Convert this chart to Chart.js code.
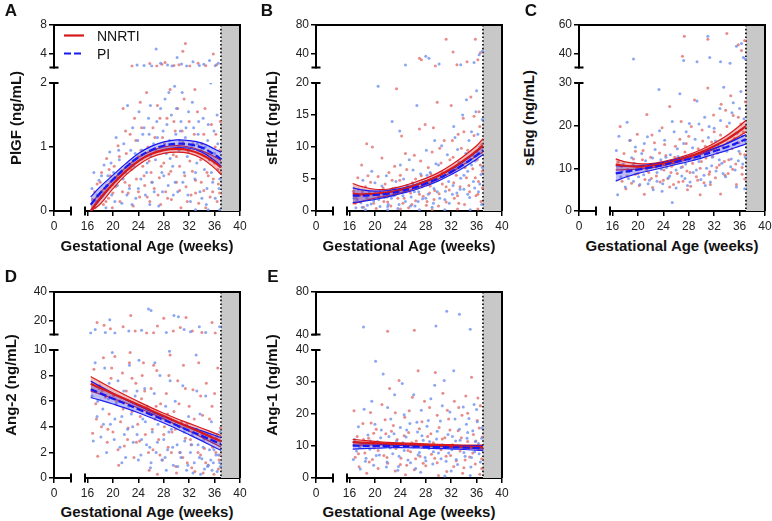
<!DOCTYPE html>
<html>
<head>
<meta charset="utf-8">
<script src="https://cdn.jsdelivr.net/npm/chart.js@4.4.1/dist/chart.umd.min.js"></script>
<style>
  body { margin: 0; background: #fff; }
  #fig { position: relative; width: 772px; height: 521px; font-family: "Liberation Sans", Arial, sans-serif; color: #111; }
  canvas { position: absolute; }
  .letter { position: absolute; font-weight: bold; font-size: 17px; transform: translate(-50%, -50%); }
  .xt { position: absolute; font-weight: bold; font-size: 15px; white-space: nowrap; transform: translate(-50%, -50%); }
  .yt { position: absolute; font-weight: bold; font-size: 15px; white-space: nowrap; transform: translate(-50%, -50%) rotate(-90deg); }
  .leg { position: absolute; font-size: 14px; transform: translateY(-50%); }
  svg { position: absolute; }
</style>
</head>
<body>
<div id="fig">
  <div class="letter" style="left:11px;top:11px">A</div>
  <div class="letter" style="left:267px;top:11px">B</div>
  <div class="letter" style="left:531px;top:11px">C</div>
  <div class="letter" style="left:11px;top:277px">D</div>
  <div class="letter" style="left:273px;top:277px">E</div>

  <div class="xt" style="left:147px;top:245px">Gestational Age (weeks)</div>
  <div class="xt" style="left:409px;top:245px">Gestational Age (weeks)</div>
  <div class="xt" style="left:672px;top:245px">Gestational Age (weeks)</div>
  <div class="xt" style="left:147px;top:511px">Gestational Age (weeks)</div>
  <div class="xt" style="left:409px;top:511px">Gestational Age (weeks)</div>

  <div class="yt" style="left:15px;top:118px">PlGF (ng/mL)</div>
  <div class="yt" style="left:271px;top:118px">sFlt1 (ng/mL)</div>
  <div class="yt" style="left:528px;top:118px">sEng (ng/mL)</div>
  <div class="yt" style="left:10px;top:385px">Ang-2 (ng/mL)</div>
  <div class="yt" style="left:271px;top:385px">Ang-1 (ng/mL)</div>
</div>
<script>
const FONT = '"Liberation Sans", Arial, sans-serif';
const RED = '#d7191c';
const BLUE = '#1818f2';

// x axis
const xLeftTicks = [0];
const xTicks = [16, 20, 24, 28, 32, 36, 40];
const shadeFrom = 37;

// fitted curves are read at these weeks
const fitWeeks = [16.5, 18, 20, 22, 24, 26, 28, 30, 32, 34, 36, 37];

// A - PlGF
const plgfLowTicks = [0, 1, 2];
const plgfUpTicks = [4, 8];
const plgfUpRange = [2, 8];
const plgfRedMean = [0, 0.2, 0.42, 0.62, 0.78, 0.89, 0.95, 0.97, 0.95, 0.88, 0.76, 0.68];
const plgfRedLo = [0, 0.11, 0.35, 0.56, 0.72, 0.84, 0.9, 0.92, 0.9, 0.82, 0.67, 0.57];
const plgfRedHi = [0.1, 0.29, 0.49, 0.68, 0.84, 0.94, 1.0, 1.02, 1.0, 0.94, 0.85, 0.79];
const plgfBlueMean = [0.1, 0.28, 0.49, 0.68, 0.84, 0.95, 1.02, 1.05, 1.04, 0.99, 0.88, 0.81];
const plgfBlueLo = [0, 0.18, 0.42, 0.62, 0.78, 0.89, 0.96, 0.99, 0.98, 0.92, 0.79, 0.7];
const plgfBlueHi = [0.22, 0.38, 0.56, 0.74, 0.9, 1.01, 1.08, 1.11, 1.1, 1.06, 0.97, 0.92];
const plgfNnrti = [16.8,0.18, 17.2,0.05, 17.5,0.42, 17.9,0.25, 18.2,0.6, 18.5,0.1, 18.7,0.35, 19.0,0.82,
  19.3,0.2, 19.6,0.55, 19.9,0.05, 20.2,0.7, 20.4,0.38, 20.8,1.02, 21.1,0.15, 21.3,0.6, 21.6,1.6, 21.9,0.45,
  22.1,0.9, 22.4,0.28, 22.7,1.2, 22.9,0.65, 23.2,0.08, 23.4,1.45, 23.7,0.5, 24.0,0.85, 24.2,0.22, 24.5,1.3,
  24.7,0.7, 25.0,0.4, 25.3,1.85, 25.5,1.0, 25.8,0.15, 26.0,0.6, 26.3,1.3, 26.5,0.35, 26.8,0.95, 27.0,1.65,
  27.3,0.52, 27.5,0.1, 27.8,1.15, 28.0,0.75, 28.3,0.3, 28.5,1.45, 28.8,0.58, 29.0,1.9, 29.2,0.18, 29.5,0.88,
  29.8,1.25, 30.0,0.45, 30.2,1.6, 30.5,0.7, 30.7,0.05, 31.0,1.08, 31.2,1.75, 31.5,0.38, 31.8,0.92, 32.0,1.4,
  32.3,0.25, 32.5,0.62, 32.8,1.2, 33.0,0.48, 33.3,1.55, 33.5,0.12, 33.8,0.8, 34.0,1.05, 34.3,0.32, 34.5,1.6,
  34.8,0.6, 35.0,0.9, 35.3,0.22, 35.5,1.35, 35.8,0.5, 36.0,0.75, 36.2,1.2, 36.4,0.15, 36.6,0.42, 36.8,0.95,
  36.9,0.6, 23.0,2.2, 25.8,2.55, 26.9,2.2, 28.2,2.7, 29.6,2.3, 30.4,2.4, 31.4,5.4, 31.0,4.3, 32.1,2.2,
  33.4,2.6, 34.6,2.25, 35.8,3.9, 36.3,2.4, 27.7,2.45,
  17.1,0.3, 18.0,0.45, 18.9,0.15, 19.4,0.65, 20.0,0.28, 20.6,0.52, 21.0,0.85, 21.5,0.3, 22.0,1.25, 22.6,0.4,
  23.1,0.72, 23.6,1.1, 24.0,0.3, 24.4,0.95, 24.9,0.55, 25.4,0.22, 25.7,0.78, 26.1,0.45, 26.6,1.15, 27.1,0.25,
  27.6,0.7, 28.1,1.05, 28.6,0.2, 29.1,0.62, 29.6,1.4, 30.0,0.85, 30.5,0.32, 30.9,1.25, 31.3,0.55, 31.7,0.15,
  32.1,0.78, 32.6,1.05, 33.0,0.28, 33.4,0.95, 33.9,0.45, 34.3,1.2, 34.6,0.05, 35.0,0.55, 35.4,0.82, 35.7,0.3,
  36.1,1.0, 36.5,0.65, 36.8,0.28, 36.9,1.4, 32.9,1.9, 27.4,1.45, 24.3,1.7, 30.3,1.02];
const plgfPi = [16.7,0.35, 17.0,0.6, 17.4,0.15, 17.8,0.48, 18.3,0.3, 18.6,0.72, 18.9,0.05, 19.2,0.55,
  19.5,0.92, 19.8,0.25, 20.1,0.6, 20.5,1.15, 20.7,0.4, 21.0,0.8, 21.4,0.12, 21.7,1.05, 22.0,0.6, 22.3,1.65,
  22.6,0.35, 22.8,0.95, 23.1,1.3, 23.3,0.7, 23.6,0.2, 23.9,1.1, 24.1,1.55, 24.4,0.5, 24.6,0.95, 24.9,1.3,
  25.1,0.25, 25.4,0.75, 25.7,1.2, 25.9,1.65, 26.2,0.45, 26.4,1.05, 26.7,0.8, 26.9,1.4, 27.2,0.08, 27.4,1.0,
  27.7,0.6, 27.9,1.25, 28.2,1.75, 28.4,0.9, 28.7,0.4, 28.9,1.1, 29.2,1.5, 29.4,0.7, 29.7,1.95, 29.9,1.2,
  30.2,0.3, 30.4,0.95, 30.7,1.4, 30.9,1.85, 31.2,0.6, 31.4,1.15, 31.7,0.85, 31.9,1.55, 32.2,0.15, 32.4,1.0,
  32.7,1.3, 32.9,0.5, 33.2,0.75, 33.4,1.2, 33.7,0.3, 33.9,0.95, 34.2,1.45, 34.4,0.65, 34.7,0.1, 34.9,1.1,
  35.2,0.8, 35.4,2.0, 35.7,0.45, 35.9,1.25, 36.1,0.2, 36.3,0.85, 36.5,1.05, 36.7,0.35, 36.9,0.7, 36.8,0.02,
  35.0,0.02, 33.0,0.02, 24.9,2.3, 26.1,2.2, 26.8,4.6, 27.5,2.6, 28.6,2.35, 29.3,2.2, 30.1,3.4, 30.8,2.5,
  31.6,2.2, 32.6,2.8, 33.6,2.3, 34.3,2.45, 35.2,3.0, 36.1,2.25, 36.6,2.6, 23.8,2.35,
  17.5,0.25, 18.2,0.55, 19.0,0.4, 19.7,0.75, 20.3,0.15, 20.9,0.95, 21.6,0.5, 22.2,0.25, 22.9,0.7, 23.5,0.9,
  24.0,0.35, 24.7,1.2, 25.3,0.6, 25.6,1.45, 26.0,0.85, 26.5,0.3, 27.0,1.15, 27.5,1.6, 28.0,0.55, 28.5,1.35,
  29.0,0.82, 29.5,0.25, 30.0,1.6, 30.5,1.1, 31.0,0.45, 31.5,1.3, 32.0,0.95, 32.5,1.7, 33.0,0.6, 33.5,1.4,
  34.0,0.2, 34.5,1.0, 35.0,1.35, 35.5,0.6, 36.0,0.9, 36.4,1.5, 36.8,0.5, 31.8,0.25, 29.8,0.45, 27.8,0.3,
  25.8,0.1, 23.0,0.1, 34.8,0.35, 33.3,1.05, 28.8,1.85, 30.6,1.25];

// B - sFlt1
const sflt1LowTicks = [0, 5, 10, 15, 20];
const sflt1UpTicks = [40, 80];
const sflt1UpRange = [20, 80];
const sflt1RedMean = [2.7, 2.6, 2.7, 2.9, 3.3, 3.9, 4.6, 5.5, 6.6, 7.9, 9.4, 10.2];
const sflt1RedLo = [1.1, 1.5, 2.0, 2.4, 2.8, 3.4, 4.1, 5.0, 6.0, 7.3, 8.6, 9.2];
const sflt1RedHi = [4.3, 3.8, 3.4, 3.4, 3.8, 4.4, 5.1, 6.0, 7.2, 8.6, 10.2, 11.3];
const sflt1BlueMean = [2.4, 2.4, 2.5, 2.7, 3.1, 3.6, 4.3, 5.1, 6.1, 7.3, 8.7, 9.5];
const sflt1BlueLo = [1.3, 1.5, 1.8, 2.2, 2.7, 3.2, 3.9, 4.7, 5.7, 6.8, 8.1, 8.8];
const sflt1BlueHi = [3.6, 3.3, 3.1, 3.2, 3.5, 4.0, 4.7, 5.5, 6.5, 7.8, 9.3, 10.2];
const sflt1Nnrti = [16.6,3.1, 16.9,1.2, 17.3,5.2, 17.6,2.4, 17.9,7.2, 18.2,0.6, 18.5,3.8, 18.7,10.5, 19.0,1.8,
  19.3,4.5, 19.6,10.0, 19.9,2.6, 20.2,0.4, 20.5,5.4, 20.8,3.0, 21.1,8.3, 21.4,1.5, 21.6,4.2, 21.9,2.2, 22.2,6.0,
  22.5,0.8, 22.8,3.5, 23.1,7.0, 23.4,19.1, 23.6,2.0, 23.9,4.8, 24.2,11.7, 24.4,1.2, 24.7,3.2, 25.0,6.5, 25.3,0.5,
  25.6,2.8, 25.9,4.4, 26.2,8.7, 26.4,1.6, 26.7,3.6, 27.0,12.8, 27.3,5.5, 27.6,2.3, 27.9,13.5, 28.1,0.9, 28.4,6.8,
  28.7,3.9, 29.0,9.2, 29.3,1.8, 29.6,5.0, 29.8,17.0, 30.1,2.7, 30.4,7.5, 30.6,4.2, 30.9,11.0, 31.2,1.4, 31.5,6.3,
  31.7,3.3, 32.0,16.5, 32.3,8.4, 32.5,2.0, 32.8,5.6, 33.1,12.0, 33.4,3.8, 33.6,7.2, 33.9,14.5, 34.1,1.0, 34.4,5.2,
  34.6,9.5, 34.9,3.0, 35.1,17.8, 35.4,6.6, 35.6,11.8, 35.9,2.4, 36.1,8.0, 36.3,4.6, 36.5,13.2, 36.7,1.5, 36.9,6.2,
  36.8,10.4, 36.2,0.3, 33.0,0.3, 29.0,0.2, 24.0,0.3, 27.0,33, 27.3,31, 31.2,60, 32.3,42, 35.8,60, 36.2,31,
  34.5,28, 32.9,24, 29.5,22, 36.6,41,
  17.1,2.0, 18.0,3.0, 18.9,5.5, 19.8,1.2, 20.6,2.3, 21.3,3.6, 22.0,1.4, 22.7,4.8, 23.3,2.6, 24.0,5.6, 24.6,2.0,
  25.2,3.9, 25.8,1.0, 26.4,5.0, 27.0,2.6, 27.6,4.0, 28.2,1.5, 28.8,5.8, 29.4,3.2, 30.0,0.8, 30.6,6.0, 31.2,3.8,
  31.8,8.0, 32.4,4.4, 33.0,2.4, 33.6,9.8, 34.2,6.8, 34.8,4.0, 35.4,8.8, 35.8,5.2, 36.2,2.6, 36.6,7.2, 36.9,3.6,
  32.2,11.0, 30.2,9.8, 27.2,7.8, 24.8,9.0, 35.6,14.8, 34.0,12.4, 29.2,13.0, 36.4,15.5, 33.2,1.2, 28.6,2.8, 23.8,3.0];
const sflt1Pi = [16.7,2.0, 17.0,0.5, 17.4,3.4, 17.8,1.3, 18.1,4.8, 18.4,2.5, 18.8,0.9, 19.1,3.0, 19.5,6.2,
  19.8,1.6, 20.1,2.8, 20.5,19.5, 20.8,0.7, 21.1,3.9, 21.5,2.1, 21.8,5.5, 22.1,1.0, 22.4,3.2, 22.7,14.0, 23.0,2.4,
  23.3,4.6, 23.6,0.4, 23.9,12.5, 24.2,2.9, 24.5,5.0, 24.8,1.5, 25.1,3.6, 25.4,8.0, 25.7,2.2, 26.0,4.1, 26.3,0.8,
  26.6,16.5, 26.9,3.0, 27.2,5.8, 27.5,1.9, 27.8,4.4, 28.1,9.5, 28.4,2.6, 28.7,6.0, 29.0,0.6, 29.3,3.5, 29.6,7.4,
  29.9,4.9, 30.2,2.0, 30.5,10.2, 30.8,5.4, 31.1,3.1, 31.4,8.8, 31.7,1.2, 32.0,6.5, 32.3,4.0, 32.6,11.5, 32.9,2.8,
  33.2,7.6, 33.5,5.1, 33.8,15.0, 34.0,3.4, 34.3,9.0, 34.6,6.2, 34.9,2.1, 35.2,12.4, 35.5,4.6, 35.8,7.8, 36.0,18.8,
  36.3,3.0, 36.5,10.0, 36.7,5.7, 36.9,14.3, 36.8,1.0, 35.0,0.2, 31.0,0.2, 27.0,0.2, 22.0,0.2, 18.5,0.2,
  24.8,23.5, 28.0,36, 28.5,33, 30.1,25, 33.5,24, 35.6,27, 36.4,38, 36.9,43,
  17.2,1.8, 18.0,0.6, 18.7,2.0, 19.4,1.1, 20.0,4.4, 20.6,1.8, 21.3,2.9, 22.0,0.7, 22.6,2.0, 23.2,3.6, 23.8,1.0,
  24.4,2.4, 25.0,4.0, 25.6,0.8, 26.2,3.0, 26.8,1.5, 27.4,3.8, 28.0,2.0, 28.6,4.8, 29.2,1.2, 29.8,3.0, 30.4,5.6,
  31.0,1.8, 31.6,4.6, 32.2,2.6, 32.8,6.8, 33.4,3.4, 34.0,5.6, 34.6,2.6, 35.2,7.2, 35.7,3.6, 36.1,9.2, 36.5,4.2,
  36.9,6.8, 36.2,12.0, 35.9,15.5, 34.8,11.0, 33.0,9.6, 31.8,6.2, 30.0,7.2, 28.2,5.6, 26.0,6.4, 24.0,7.2,
  32.4,13.2, 34.4,17.4, 29.4,11.0];

// C - sEng
const sengLowTicks = [0, 10, 20, 30];
const sengUpTicks = [40, 60];
const sengUpRange = [30, 60];
const sengRedMean = [10.9, 10.6, 10.4, 10.6, 11.1, 11.8, 12.7, 13.8, 15.2, 16.8, 18.8, 19.9];
const sengRedLo = [9.6, 9.7, 9.8, 10.1, 10.6, 11.3, 12.2, 13.3, 14.5, 15.9, 17.6, 18.5];
const sengRedHi = [12.2, 11.5, 11.1, 11.1, 11.6, 12.3, 13.2, 14.4, 15.9, 17.7, 20.0, 21.3];
const sengBlueMean = [8.8, 9.2, 9.7, 10.2, 10.8, 11.5, 12.2, 13.0, 14.0, 15.0, 16.2, 16.8];
const sengBlueLo = [7.0, 7.9, 8.8, 9.5, 10.2, 10.9, 11.6, 12.4, 13.3, 14.2, 15.2, 15.7];
const sengBlueHi = [10.6, 10.5, 10.6, 10.9, 11.4, 12.1, 12.8, 13.6, 14.7, 15.8, 17.2, 17.9];
const sengNnrti = [16.9,11.5, 17.2,19.8, 17.5,7.0, 17.8,13.5, 18.1,5.2, 18.4,9.8, 18.7,16.5, 19.0,6.5, 19.3,12.2,
  19.6,8.6, 19.9,18.0, 20.2,6.0, 20.5,10.4, 20.8,14.2, 21.1,7.4, 21.4,22.6, 21.7,9.0, 22.0,12.6, 22.3,5.5,
  22.6,16.0, 22.9,8.2, 23.2,11.0, 23.5,6.8, 23.8,19.5, 24.1,9.6, 24.4,13.0, 24.7,7.6, 25.0,24.5, 25.3,10.5,
  25.6,6.2, 25.9,15.2, 26.2,8.8, 26.5,12.0, 26.8,21.0, 27.1,7.0, 27.4,13.8, 27.7,9.4, 28.0,17.5, 28.3,5.8,
  28.6,11.2, 28.9,26.0, 29.2,8.0, 29.5,14.6, 29.8,10.0, 30.1,19.0, 30.4,6.6, 30.7,12.4, 31.0,28.8, 31.3,9.2,
  31.6,16.2, 31.9,22.5, 32.2,7.8, 32.5,13.6, 32.8,10.8, 33.1,25.0, 33.4,15.0, 33.7,8.4, 34.0,19.8, 34.3,12.0,
  34.6,27.0, 34.9,9.8, 35.2,17.0, 35.5,6.2, 35.8,22.0, 36.1,13.4, 36.4,10.2, 36.6,18.5, 36.8,7.5, 36.9,25.6,
  33.0,4.0, 29.8,3.8, 21.0,3.9, 27.3,52, 27.0,38, 31.0,50, 34.0,54, 35.8,46, 36.8,49, 36.3,42,
  17.4,10.5, 18.3,8.2, 19.2,10.8, 20.0,8.8, 20.7,12.0, 21.4,9.6, 22.1,7.6, 22.8,10.4, 23.4,13.6, 24.0,7.2,
  24.6,11.2, 25.2,9.0, 25.8,12.6, 26.4,6.8, 27.0,10.4, 27.6,15.8, 28.2,9.0, 28.8,12.2, 29.4,7.2, 30.0,11.6,
  30.6,15.2, 31.2,8.6, 31.8,12.8, 32.4,10.2, 33.0,17.8, 33.6,11.6, 34.2,8.8, 34.8,14.6, 35.4,11.0, 35.9,16.0,
  36.4,8.6, 36.8,13.2, 36.2,20.4, 35.0,22.4, 33.8,23.6, 32.0,18.6, 30.2,16.4, 28.4,19.8, 26.6,16.8, 24.2,15.6,
  22.2,17.8, 19.6,14.0, 31.4,6.2, 27.8,5.0, 25.0,5.6];
const sengPi = [16.6,14.2, 16.8,3.8, 17.0,17.5, 17.3,8.0, 17.7,11.0, 18.0,5.6, 18.3,20.8, 18.6,9.2, 19.0,12.5,
  19.3,7.0, 19.6,15.0, 19.9,10.0, 20.3,6.2, 20.6,13.5, 20.9,8.5, 21.2,11.8, 21.5,17.4, 21.8,7.2, 22.1,10.6,
  22.4,5.0, 22.7,14.4, 23.0,9.0, 23.3,28.5, 23.6,12.0, 23.9,6.4, 24.2,16.6, 24.5,10.2, 24.8,7.8, 25.1,13.2,
  25.4,2.0, 25.7,18.6, 26.0,9.6, 26.3,12.8, 26.6,27.5, 26.9,8.2, 27.2,15.8, 27.5,11.0, 27.8,6.0, 28.1,20.5,
  28.4,13.0, 28.7,9.0, 29.0,16.8, 29.3,25.8, 29.6,11.6, 29.9,7.4, 30.2,14.0, 30.5,22.0, 30.8,10.0, 31.1,17.2,
  31.4,6.8, 31.7,12.6, 32.0,19.4, 32.3,9.4, 32.6,15.4, 32.9,24.0, 33.2,11.2, 33.5,29.0, 33.8,8.0, 34.1,16.0,
  34.4,20.6, 34.7,12.2, 35.0,25.4, 35.3,9.6, 35.6,18.2, 35.9,14.0, 36.2,28.0, 36.5,11.0, 36.7,21.6, 36.9,16.4,
  36.8,5.2, 35.5,5.6, 19.3,36, 27.2,35, 29.3,34, 31.0,52, 31.3,37, 33.0,34, 35.5,45, 36.3,47, 36.6,37,
  36.9,36, 34.5,33,
  17.5,9.4, 18.5,7.6, 19.4,11.2, 20.1,8.0, 20.8,10.6, 21.6,6.4, 22.3,12.4, 23.0,7.0, 23.7,9.8, 24.4,12.6,
  25.0,8.2, 25.6,11.0, 26.2,14.6, 26.8,10.2, 27.4,7.6, 28.0,12.0, 28.6,14.8, 29.2,9.6, 29.8,12.4, 30.4,8.4,
  31.0,13.8, 31.6,10.6, 32.2,16.4, 32.8,12.0, 33.4,8.8, 34.0,14.0, 34.6,10.4, 35.2,15.6, 35.8,11.8, 36.4,17.6,
  36.9,12.6, 36.0,24.0, 34.8,23.0, 33.0,21.2, 31.2,19.8, 29.6,20.4, 27.6,18.6, 25.4,21.0, 23.4,18.8, 21.0,15.8,
  18.8,16.6, 30.6,6.0, 28.2,6.8, 26.0,5.4, 23.8,4.6];

// D - Ang-2
const ang2LowTicks = [0, 2, 4, 6, 8, 10];
const ang2UpTicks = [20, 40];
const ang2UpRange = [10, 40];
const ang2RedMean = [7.36, 7.03, 6.59, 6.16, 5.72, 5.28, 4.84, 4.4, 3.97, 3.53, 3.09, 2.87];
const ang2RedLo = [6.79, 6.55, 6.21, 5.86, 5.47, 5.06, 4.62, 4.15, 3.67, 3.17, 2.67, 2.42];
const ang2RedHi = [7.93, 7.51, 6.97, 6.46, 5.97, 5.5, 5.06, 4.65, 4.27, 3.89, 3.51, 3.32];
const ang2BlueMean = [6.93, 6.62, 6.2, 5.79, 5.37, 4.95, 4.54, 4.12, 3.7, 3.29, 2.87, 2.66];
const ang2BlueLo = [6.29, 6.08, 5.78, 5.46, 5.1, 4.71, 4.3, 3.85, 3.38, 2.9, 2.4, 2.16];
const ang2BlueHi = [7.57, 7.16, 6.62, 6.12, 5.64, 5.19, 4.78, 4.39, 4.02, 3.68, 3.34, 3.16];
const ang2Nnrti = [16.8,3.5, 17.0,8.5, 17.3,5.8, 17.6,1.7, 17.9,7.2, 18.2,4.0, 18.5,9.4, 18.8,6.3, 19.1,2.8,
  19.4,5.0, 19.7,7.8, 20.0,3.6, 20.3,9.5, 20.6,6.0, 20.9,1.0, 21.2,4.4, 21.5,8.2, 21.8,2.5, 22.1,6.8, 22.4,3.9,
  22.7,9.8, 23.0,5.2, 23.3,1.6, 23.6,7.4, 23.9,4.2, 24.2,2.9, 24.5,6.2, 24.8,9.0, 25.1,3.4, 25.4,5.6, 25.7,0.6,
  26.0,7.0, 26.3,2.2, 26.6,4.6, 26.9,8.4, 27.2,3.0, 27.5,5.8, 27.8,1.4, 28.1,4.0, 28.4,6.6, 28.7,2.4, 29.0,9.6,
  29.3,3.6, 29.6,5.2, 29.9,0.9, 30.2,7.6, 30.5,2.0, 30.8,4.4, 31.1,8.8, 31.4,3.1, 31.7,1.2, 32.0,5.6, 32.3,2.6,
  32.6,6.9, 32.9,0.5, 33.2,3.8, 33.5,9.0, 33.8,1.8, 34.1,4.9, 34.4,2.3, 34.7,7.4, 35.0,1.0, 35.3,3.3, 35.6,5.6,
  35.9,0.3, 36.2,2.0, 36.5,8.6, 36.7,1.4, 36.9,3.9, 36.6,0.7, 35.8,2.8, 34.2,0.4, 17.5,18.5, 18.6,16.5,
  19.6,14, 21.6,15.5, 22.8,23.5, 23.5,12.5, 25.3,11, 26.4,11.2, 27.0,16, 28.0,21.5, 29.5,12.5, 30.6,15,
  31.5,22, 32.5,12.5, 34.0,11.5, 35.6,18.5, 36.1,11,
  17.4,4.6, 18.3,6.8, 19.2,3.8, 20.1,6.4, 20.8,2.2, 21.6,5.4, 22.3,3.0, 23.0,7.8, 23.7,2.8, 24.3,4.8, 25.0,6.8,
  25.6,2.0, 26.2,3.8, 26.8,5.6, 27.4,1.8, 28.0,3.4, 28.6,5.0, 29.2,2.0, 29.8,3.8, 30.4,5.8, 31.0,1.6, 31.6,4.2,
  32.2,3.0, 32.8,4.6, 33.4,2.0, 34.0,3.4, 34.6,1.2, 35.2,4.6, 35.7,2.4, 36.3,3.2, 36.8,1.8, 36.0,6.6, 33.8,6.4,
  31.4,7.0, 28.8,8.0, 26.4,8.8, 24.6,8.0, 22.6,9.0, 19.8,8.6, 30.0,0.4, 27.0,0.3, 32.4,0.8];
const ang2Pi = [16.7,6.4, 16.9,2.9, 17.2,9.0, 17.5,4.8, 17.8,7.0, 18.1,3.2, 18.4,5.4, 18.7,8.6, 19.0,2.0,
  19.3,6.2, 19.6,4.2, 19.9,9.8, 20.2,3.0, 20.5,5.8, 20.8,7.6, 21.1,2.4, 21.4,4.8, 21.7,6.8, 22.0,1.6, 22.3,3.8,
  22.6,8.8, 22.9,5.0, 23.2,2.8, 23.5,6.4, 23.8,3.4, 24.1,9.2, 24.4,1.8, 24.7,4.6, 25.0,7.0, 25.3,2.6, 25.6,5.4,
  25.9,0.8, 26.2,3.6, 26.5,6.6, 26.8,2.0, 27.1,4.2, 27.4,8.0, 27.7,1.4, 28.0,3.0, 28.3,5.6, 28.6,2.2, 28.9,9.9,
  29.2,3.8, 29.5,1.0, 29.8,6.0, 30.1,2.6, 30.4,4.0, 30.7,1.6, 31.0,7.2, 31.3,2.9, 31.6,0.6, 31.9,4.8, 32.2,2.0,
  32.5,3.4, 32.8,1.2, 33.1,9.6, 33.4,2.6, 33.7,5.0, 34.0,1.5, 34.3,3.0, 34.6,6.4, 34.9,0.9, 35.2,2.2, 35.5,4.4,
  35.8,1.2, 36.1,2.8, 36.4,0.5, 36.6,1.8, 36.8,3.6, 36.9,0.9, 35.0,1.0, 33.8,0.3, 16.5,11, 17.2,13.5,
  18.8,11.5, 19.5,20.5, 20.3,11, 22.5,12.5, 24.5,13, 25.6,28, 26.0,27, 28.4,11.5, 29.6,23.5, 30.3,22.5,
  31.2,13.5, 32.2,12, 33.6,15.5, 34.6,11.5, 36.8,15.5,
  17.6,6.0, 18.5,4.2, 19.4,7.4, 20.3,4.6, 21.0,6.0, 21.8,3.4, 22.5,5.6, 23.1,4.0, 23.8,6.8, 24.5,3.0, 25.1,4.4,
  25.8,2.4, 26.4,5.0, 27.0,2.8, 27.6,4.6, 28.2,1.6, 28.8,3.6, 29.4,2.4, 30.0,4.4, 30.6,2.0, 31.2,3.6, 31.8,1.0,
  32.4,2.6, 33.0,3.8, 33.6,1.6, 34.2,2.4, 34.8,3.4, 35.4,1.4, 35.9,2.2, 36.4,3.4, 36.8,1.2, 36.2,1.8, 35.6,0.6,
  34.4,0.7, 32.6,0.4, 30.2,0.9, 28.4,0.6, 26.0,1.2, 24.0,1.4, 21.4,1.2, 33.2,6.8, 29.0,7.6, 26.6,9.0];

// E - Ang-1
const ang1LowTicks = [0, 10, 20, 30, 40];
const ang1UpTicks = [40, 80];
const ang1UpRange = [40, 80];
const ang1RedMean = [11.2, 11.05, 10.9, 10.75, 10.6, 10.45, 10.3, 10.15, 10.0, 9.85, 9.75, 9.7];
const ang1RedLo = [10.3, 10.3, 10.35, 10.35, 10.25, 10.1, 9.95, 9.8, 9.6, 9.4, 9.2, 9.1];
const ang1RedHi = [12.1, 11.8, 11.45, 11.15, 10.95, 10.8, 10.65, 10.5, 10.4, 10.3, 10.3, 10.3];
const ang1BlueMean = [10.1, 10.05, 10.0, 9.95, 9.9, 9.8, 9.75, 9.65, 9.6, 9.5, 9.4, 9.35];
const ang1BlueLo = [9.0, 9.15, 9.3, 9.45, 9.5, 9.4, 9.35, 9.2, 9.1, 8.9, 8.7, 8.55];
const ang1BlueHi = [11.2, 10.95, 10.7, 10.45, 10.3, 10.2, 10.15, 10.1, 10.1, 10.1, 10.1, 10.15];
const ang1Nnrti = [16.7,21.0, 16.9,6.5, 17.2,13.0, 17.5,3.5, 17.8,10.2, 18.1,17.0, 18.4,7.8, 18.7,1.5, 19.0,12.4,
  19.3,20.5, 19.6,5.8, 19.9,9.4, 20.2,15.2, 20.5,3.0, 20.8,11.0, 21.1,23.0, 21.4,7.0, 21.7,13.8, 22.0,4.6,
  22.3,28.0, 22.6,9.8, 22.9,16.4, 23.2,2.2, 23.5,12.0, 23.8,30.5, 24.1,6.2, 24.4,10.6, 24.7,19.0, 25.0,4.0,
  25.3,14.2, 25.6,8.2, 25.9,25.2, 26.2,2.6, 26.5,11.6, 26.8,33.5, 27.1,6.8, 27.4,17.6, 27.7,9.6, 28.0,3.8,
  28.3,13.0, 28.6,22.0, 28.9,7.4, 29.2,11.0, 29.5,33.0, 29.8,4.8, 30.1,15.8, 30.4,8.8, 30.7,26.5, 31.0,12.6,
  31.3,2.0, 31.6,18.4, 31.9,7.0, 32.2,10.4, 32.5,24.0, 32.8,5.4, 33.1,14.8, 33.4,8.4, 33.7,19.6, 34.0,3.2,
  34.3,25.6, 34.6,11.4, 34.9,6.6, 35.2,31.5, 35.5,13.6, 35.8,4.4, 36.1,18.0, 36.4,9.0, 36.6,22.6, 36.8,6.0,
  36.9,12.8, 36.5,1.2, 30.0,0.8, 22.0,43, 26.2,44,
  17.4,7.6, 18.2,12.0, 19.1,5.0, 19.8,14.0, 20.5,8.6, 21.2,10.8, 21.9,6.4, 22.6,14.6, 23.3,9.2, 24.0,4.2,
  24.6,13.2, 25.2,8.6, 25.8,11.0, 26.4,6.0, 27.0,15.4, 27.6,4.6, 28.2,10.2, 28.8,13.8, 29.4,6.2, 30.0,9.6,
  30.6,12.2, 31.2,6.8, 31.8,15.0, 32.4,3.6, 33.0,10.0, 33.6,12.6, 34.2,5.6, 34.8,9.4, 35.4,7.8, 35.9,11.6,
  36.4,15.6, 36.8,3.0, 36.2,25.0, 34.6,20.2, 33.2,22.0, 31.4,21.2, 29.8,19.6, 27.8,24.0, 25.4,21.0, 23.2,20.4,
  21.6,18.2, 19.4,17.2, 24.8,1.0, 33.8,1.5];
const ang1Pi = [16.6,5.8, 16.8,12.0, 17.1,8.4, 17.4,16.0, 17.7,2.8, 18.0,10.6, 18.3,21.5, 18.6,6.2, 18.9,13.4,
  19.2,9.0, 19.5,24.0, 19.8,4.0, 20.1,36.5, 20.4,11.4, 20.7,7.2, 21.0,15.0, 21.3,32.5, 21.6,9.8, 21.9,5.0,
  22.2,13.0, 22.5,18.4, 22.8,7.6, 23.1,26.0, 23.4,11.6, 23.7,3.6, 24.0,15.8, 24.3,29.5, 24.6,8.6, 24.9,12.8,
  25.2,5.6, 25.5,17.0, 25.8,10.0, 26.1,26.0, 26.4,3.0, 26.7,14.4, 27.0,8.0, 27.3,21.2, 27.6,11.8, 27.9,6.4,
  28.2,16.2, 28.5,9.2, 28.8,24.8, 29.1,4.4, 29.4,29.0, 29.7,12.2, 30.0,7.8, 30.3,17.8, 30.6,10.4, 30.9,30.5,
  31.2,5.2, 31.5,13.6, 31.8,20.6, 32.1,8.8, 32.4,33.5, 32.7,11.6, 33.0,4.2, 33.3,15.2, 33.6,9.4, 33.9,22.2,
  34.2,6.8, 34.5,12.4, 34.8,18.6, 35.1,3.4, 35.4,14.8, 35.7,8.2, 36.0,21.4, 36.3,10.8, 36.6,5.0, 36.8,15.6,
  36.9,9.0, 35.0,0.8, 31.0,0.6, 18.2,47, 29.6,48, 31.3,62, 33.3,59, 35.0,45,
  17.6,9.6, 18.5,5.2, 19.3,11.6, 20.2,7.0, 20.9,12.6, 21.8,3.4, 22.4,9.4, 23.0,13.8, 23.8,6.8, 24.4,11.0,
  25.0,15.0, 25.6,4.8, 26.2,10.6, 26.8,7.2, 27.4,13.2, 28.0,5.4, 28.6,11.4, 29.2,8.2, 29.8,14.6, 30.4,6.0,
  31.0,10.2, 31.6,7.8, 32.2,13.0, 32.8,5.8, 33.4,11.8, 34.0,8.0, 34.6,14.2, 35.2,6.4, 35.8,11.4, 36.4,7.6,
  36.8,12.4, 36.1,17.6, 34.4,16.8, 32.6,18.4, 30.6,22.6, 28.4,18.0, 26.6,17.4, 24.6,19.8, 22.0,22.0, 20.0,16.8,
  27.2,1.8, 32.0,2.2, 23.6,2.4, 35.6,23.0];

const panels = [
  { left: 14, top: 13, lowTicks: plgfLowTicks, upTicks: plgfUpTicks, upRange: plgfUpRange, red: plgfNnrti, blue: plgfPi,
    fit: [plgfRedMean, plgfRedLo, plgfRedHi, plgfBlueMean, plgfBlueLo, plgfBlueHi] },
  { left: 276, top: 13, lowTicks: sflt1LowTicks, upTicks: sflt1UpTicks, upRange: sflt1UpRange, red: sflt1Nnrti, blue: sflt1Pi,
    fit: [sflt1RedMean, sflt1RedLo, sflt1RedHi, sflt1BlueMean, sflt1BlueLo, sflt1BlueHi] },
  { left: 539, top: 13, lowTicks: sengLowTicks, upTicks: sengUpTicks, upRange: sengUpRange, red: sengNnrti, blue: sengPi,
    fit: [sengRedMean, sengRedLo, sengRedHi, sengBlueMean, sengBlueLo, sengBlueHi] },
  { left: 14, top: 280, lowTicks: ang2LowTicks, upTicks: ang2UpTicks, upRange: ang2UpRange, red: ang2Nnrti, blue: ang2Pi,
    fit: [ang2RedMean, ang2RedLo, ang2RedHi, ang2BlueMean, ang2BlueLo, ang2BlueHi] },
  { left: 276, top: 280, lowTicks: ang1LowTicks, upTicks: ang1UpTicks, upRange: ang1UpRange, red: ang1Nnrti, blue: ang1Pi,
    fit: [ang1RedMean, ang1RedLo, ang1RedHi, ang1BlueMean, ang1BlueLo, ang1BlueHi] }
];

function points(flat, keep) {
  const out = [];
  for (let i = 0; i < flat.length; i += 2) {
    if (keep(flat[i + 1])) out.push({ x: flat[i], y: flat[i + 1] });
  }
  return out;
}
function curve(vals) {
  return fitWeeks.map((w, i) => ({ x: w, y: vals[i] }));
}

// shaded region, frame, break marks
const decor = {
  id: 'decor',
  beforeDatasetsDraw(chart) {
    const { ctx, chartArea: a, scales } = chart;
    const px = scales.x1.getPixelForValue(shadeFrom);
    ctx.save();
    ctx.fillStyle = '#c8c8c8';
    ctx.fillRect(px, a.top, a.right - px, a.bottom - a.top);
    ctx.strokeStyle = '#000';
    ctx.lineWidth = 2;
    ctx.beginPath();
    ctx.moveTo(a.left, a.top);
    ctx.lineTo(a.right, a.top);
    ctx.lineTo(a.right, a.bottom);
    [scales.y1.bottom, scales.y0.top].forEach(y => { ctx.moveTo(a.left - 4.5, y); ctx.lineTo(a.left + 4.5, y); });
    [scales.x0.right, scales.x1.left].forEach(x => { ctx.moveTo(x, a.bottom - 4.5); ctx.lineTo(x, a.bottom + 4.5); });
    ctx.stroke();
    ctx.lineWidth = 1.6;
    ctx.setLineDash([1.6, 2.2]);
    ctx.beginPath();
    ctx.moveTo(px, a.top);
    ctx.lineTo(px, a.bottom);
    ctx.stroke();
    ctx.restore();
  }
};

// fixed axis sizes; label overflow padding is left to the layout padding
function fixSize(s, isX) {
  if (isX) s.height = 24; else s.width = 40;
  s.paddingLeft = s.paddingRight = s.paddingTop = s.paddingBottom = 0;
}

function axis(ticks, min, max, stack, weight, isX) {
  return {
    type: 'linear', min, max, stack, stackWeight: weight,
    position: isX ? 'bottom' : 'left',
    afterBuildTicks: s => { s.ticks = ticks.map(v => ({ value: v })); },
    afterFit: s => fixSize(s, isX),
    border: { display: true, color: '#000', width: 2 },
    grid: { display: true, drawOnChartArea: false, drawTicks: true, tickLength: 5, color: '#000', lineWidth: 1.5 },
    ticks: { autoSkip: false, maxRotation: 0, color: '#222', padding: isX ? 3 : 2, font: { family: FONT, size: 12 } }
  };
}
function gap(stack, weight, isX) {
  return {
    type: 'linear', min: 0, max: 1, stack, stackWeight: weight,
    position: isX ? 'bottom' : 'left',
    afterFit: s => fixSize(s, isX),
    border: { display: false }, grid: { display: false }, ticks: { display: false }
  };
}

const fig = document.getElementById('fig');
panels.forEach(p => {
  const cv = document.createElement('canvas');
  cv.width = 238; cv.height = 222;
  cv.style.left = p.left + 'px'; cv.style.top = p.top + 'px';
  fig.insertBefore(cv, fig.firstChild);
  const lowMax = p.lowTicks[p.lowTicks.length - 1];
  const [rMean, rLo, rHi, bMean, bLo, bHi] = p.fit;
  const line = (data, color, width, extra) => Object.assign({
    type: 'line', data: curve(data), showLine: true, borderColor: color, borderWidth: width,
    pointRadius: 0, tension: 0.4, xAxisID: 'x1', yAxisID: 'y0', fill: false
  }, extra);
  const dots = (flat, color, up, order) => ({
    type: 'scatter', data: points(flat, up ? v => v > lowMax : v => v <= lowMax),
    backgroundColor: color, borderWidth: 0, pointRadius: 1.5, xAxisID: 'x1', yAxisID: up ? 'y1' : 'y0', order
  });
  new Chart(cv, {
    type: 'scatter',
    data: {
      datasets: [
        line(bMean, BLUE, 2.2, { borderDash: [7, 3], order: 0 }),
        line(rMean, RED, 2.2, { order: 1 }),
        line(bHi, BLUE, 1.2, { order: 2, fill: '+1', backgroundColor: 'rgba(70,70,230,0.35)' }),
        line(bLo, BLUE, 1.2, { order: 2 }),
        line(rHi, RED, 1.2, { order: 3, fill: '+1', backgroundColor: 'rgba(215,60,60,0.35)' }),
        line(rLo, RED, 1.2, { order: 3 }),
        dots(p.blue, 'rgba(110,145,240,0.8)', false, 5),
        dots(p.blue, 'rgba(110,145,240,0.8)', true, 5),
        dots(p.red, 'rgba(225,110,110,0.8)', false, 6),
        dots(p.red, 'rgba(225,110,110,0.8)', true, 6)
      ]
    },
    options: {
      responsive: false, animation: false, events: [],
      layout: { padding: { top: 12, right: 12, left: 0, bottom: 0 } },
      plugins: { legend: { display: false }, tooltip: { enabled: false } },
      scales: {
        x0: axis(xLeftTicks, 0, 2.7, 'xs', 17, true),
        xg: gap('xs', 14, true),
        x1: axis(xTicks, 15.6, 40, 'xs', 155, true),
        y0: axis(p.lowTicks, 0, lowMax, 'ys', 128, false),
        yg: gap('ys', 15.5, false),
        y1: axis(p.upTicks, p.upRange[0], p.upRange[1], 'ys', 42.5, false)
      }
    },
    plugins: [decor]
  });
});

// legend of panel A
fig.insertAdjacentHTML('beforeend',
  '<svg width="24" height="24" style="left:62px;top:24px">' +
  '<line x1="2" y1="11.5" x2="22" y2="11.5" stroke="' + RED + '" stroke-width="2.2"/></svg>' +
  '<div class="leg" style="left:97px;top:35.5px">NNRTI</div>' +
  '<svg width="24" height="24" style="left:62px;top:42px">' +
  '<line x1="2" y1="11.5" x2="22" y2="11.5" stroke="' + BLUE + '" stroke-width="2.2" stroke-dasharray="7 3"/></svg>' +
  '<div class="leg" style="left:97px;top:53.5px">PI</div>');
</script>
</body>
</html>
